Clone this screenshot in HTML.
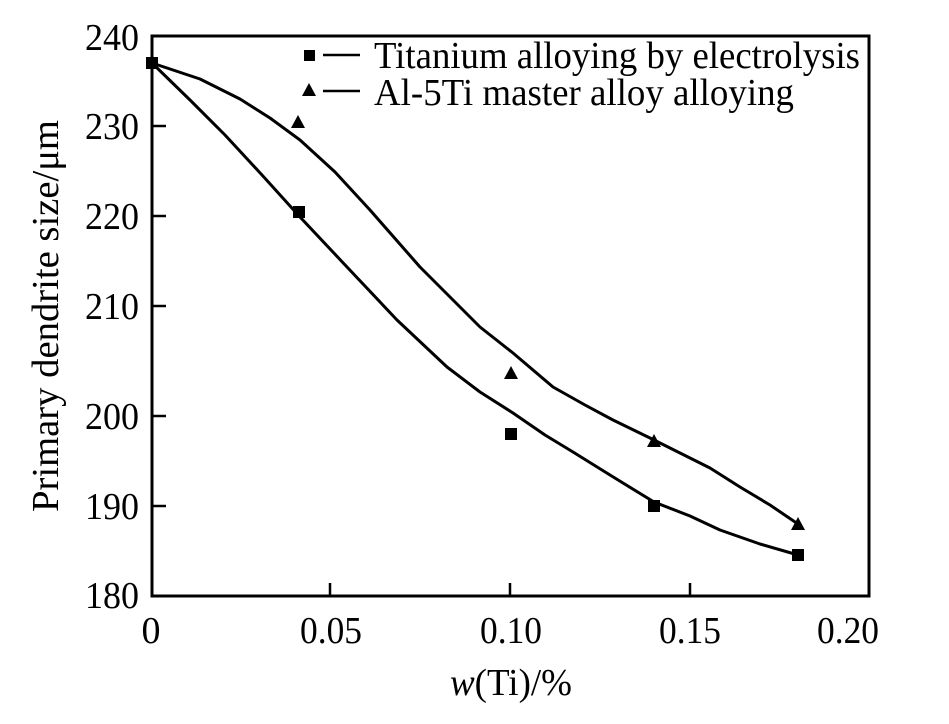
<!DOCTYPE html>
<html><head><style>body{margin:0;background:#fff}</style></head><body>
<svg width="949" height="719" xmlns="http://www.w3.org/2000/svg" font-family="Liberation Serif, serif" fill="#000">
<rect x="152" y="36" width="717" height="560" fill="none" stroke="#000" stroke-width="3"/>
<g stroke="#000" stroke-width="2.5">
<line x1="152" y1="126" x2="166" y2="126"/><line x1="152" y1="216" x2="166" y2="216"/><line x1="152" y1="306" x2="166" y2="306"/><line x1="152" y1="416" x2="166" y2="416"/><line x1="152" y1="506" x2="166" y2="506"/>
<line x1="330" y1="596" x2="330" y2="583"/><line x1="510" y1="596" x2="510" y2="583"/><line x1="690" y1="596" x2="690" y2="583"/>
</g>
<g font-size="38" text-anchor="end">
<text x="139" y="50" textLength="54" lengthAdjust="spacingAndGlyphs">240</text><text x="139" y="139" textLength="54" lengthAdjust="spacingAndGlyphs">230</text><text x="139" y="229" textLength="54" lengthAdjust="spacingAndGlyphs">220</text><text x="139" y="319" textLength="54" lengthAdjust="spacingAndGlyphs">210</text><text x="139" y="429" textLength="54" lengthAdjust="spacingAndGlyphs">200</text><text x="139" y="519" textLength="54" lengthAdjust="spacingAndGlyphs">190</text><text x="139" y="608" textLength="54" lengthAdjust="spacingAndGlyphs">180</text>
</g>
<g font-size="38" text-anchor="middle">
<text x="151" y="643">0</text><text x="331" y="643" textLength="62" lengthAdjust="spacingAndGlyphs">0.05</text><text x="511" y="643" textLength="62" lengthAdjust="spacingAndGlyphs">0.10</text><text x="690" y="643" textLength="62" lengthAdjust="spacingAndGlyphs">0.15</text><text x="848" y="643" textLength="62" lengthAdjust="spacingAndGlyphs">0.20</text>
<text x="511" y="695" textLength="122" lengthAdjust="spacingAndGlyphs"><tspan font-style="italic">w</tspan>(Ti)/%</text>
<text transform="translate(58,316) rotate(-90)" textLength="392" lengthAdjust="spacingAndGlyphs">Primary dendrite size/μm</text>
</g>
<g fill="none" stroke="#000" stroke-width="3" stroke-linejoin="round">
<polyline points="152,63 190,100 225,135 262,175 300,217 347,267 397,320 447,367 480,392 513,413 545,435 573,452 610,475 654,502 690,516 720,530 760,544 798,555"/>
<polyline points="152,63 200,79 240,99 270,118 300,140 335,172 370,210 420,267 480,327 513,353 553,387 585,405 613,420 650,438 680,453 710,468 740,487 770,505 798,524"/>
</g>
<g>
<rect x="146" y="57" width="12" height="12"/><rect x="293" y="206" width="12" height="12"/><rect x="505" y="428" width="12" height="12"/><rect x="648" y="500" width="12" height="12"/><rect x="792" y="549" width="12" height="12"/>
<polygon points="298,115 291,128 305,128"/><polygon points="511,366 504,379 518,379"/><polygon points="654,434 647,447 661,447"/><polygon points="798,517 791,530 805,530"/>
<rect x="304" y="50" width="11" height="11"/><polygon points="309,83 302,96 316,96"/>
</g>
<g stroke="#000" stroke-width="2.5"><line x1="323" y1="55" x2="360" y2="55"/><line x1="323" y1="91" x2="360" y2="91"/></g>
<g font-size="38"><text x="374" y="68" textLength="486" lengthAdjust="spacingAndGlyphs">Titanium alloying by electrolysis</text><text x="374" y="105" textLength="420" lengthAdjust="spacingAndGlyphs">Al-5Ti master alloy alloying</text></g>
</svg>
</body></html>
